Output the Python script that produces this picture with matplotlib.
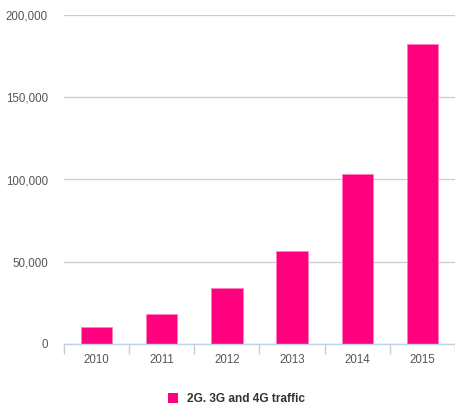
import matplotlib
matplotlib.use("Agg")
import matplotlib.pyplot as plt
from matplotlib.patches import Patch
from matplotlib.ticker import FuncFormatter

years = ["2010", "2011", "2012", "2013", "2014", "2015"]
traffic = [10300, 18400, 34200, 56400, 103500, 182400]
series_name = "2G. 3G and 4G traffic"
y_ticks = [0, 50000, 100000, 150000, 200000]

plt.rcParams["font.family"] = ["Liberation Sans", "DejaVu Sans"]

fig = plt.figure(figsize=(4.55, 4.05), dpi=100)
ax = fig.add_axes([64 / 455, 1 - 344 / 405, 1 - 64 / 455, 329 / 405])

bar_color = "#ff007f"
x = range(len(years))
ax.bar(x, traffic, width=0.48, color=bar_color, edgecolor="#ff7fbf",
       linewidth=0.6, zorder=3)

ax.set_xlim(-0.5, len(years) - 0.5)
ax.set_ylim(0, 200000)
ax.set_yticks(y_ticks)
ax.yaxis.set_major_formatter(FuncFormatter(lambda v, p: f"{int(v):,}"))
ax.grid(axis="y", color="#cccccc", linewidth=0.9, zorder=0)
ax.tick_params(axis="y", length=0, pad=11.5, labelsize=8.3, labelcolor="#555555")

# category boundaries as tick marks below the baseline
ax.set_xticks([i - 0.5 for i in range(len(years) + 1)], minor=False)
ax.set_xticklabels([])
ax.set_xticks(list(x), minor=True)
ax.set_xticklabels(years, minor=True)
ax.tick_params(axis="x", which="major", length=7, width=1, color="#c0d0e0",
               direction="out")
ax.tick_params(axis="x", which="minor", length=0, pad=7, labelsize=8.3,
               labelcolor="#555555")

for s in ["top", "right", "left"]:
    ax.spines[s].set_visible(False)
ax.spines["bottom"].set_color("#c0d0e0")
ax.spines["bottom"].set_linewidth(1)
ax.spines["bottom"].set_zorder(4)

handle = Patch(facecolor=bar_color, edgecolor="none")
leg = fig.legend([handle], [series_name], loc="center",
                 bbox_to_anchor=(0.52, 1 - 399 / 405), frameon=False,
                 handlelength=0.85, handleheight=1.0, handletextpad=0.7,
                 prop={"weight": "bold", "size": 8.6})
for t in leg.get_texts():
    t.set_color("#333333")

fig.savefig("out.png", dpi=100)
